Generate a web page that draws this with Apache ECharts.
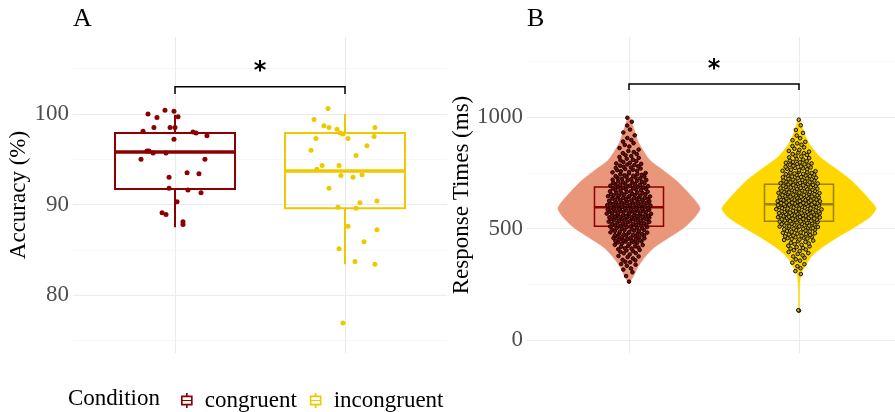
<!DOCTYPE html>
<html>
<head>
<meta charset="utf-8">
<script src="https://cdn.jsdelivr.net/npm/echarts@6/dist/echarts.min.js"></script>
<style>
html, body { margin: 0; padding: 0; background: #fff; }
#chart { width: 895px; height: 412px; }
</style>
</head>
<body>
<div id="chart"></div>
<script>
const conditions = ['congruent', 'incongruent']
const condColors = ['#8B0000', '#EEC900']
const violinColors = ['#E9967A', '#FFD700']
const rtBoxColors = ['#8B0000', '#9A8200']

// Panel A: accuracy per participant (%), with the horizontal jitter
const accCongruent = [100.0, 99.6, 100.4, 100.3, 99.7, 98.1, 98.5, 98.5, 98.5, 98.0, 97.9, 97.6, 97.2, 95.9, 95.9,
    95.7, 95.7, 95.0, 95.0, 93.0, 93.5, 93.4, 91.8, 91.6, 91.3, 90.3, 89.1, 88.9, 88.1, 87.8]
const accCongruentJitter = [-0.159, -0.106, -0.059, -0.006, 0.018, -0.188, -0.124, -0.029, 0.0, 0.106, 0.124, 0.188, -0.006, -0.165, -0.153,
    -0.129, -0.053, -0.2, 0.176, -0.035, 0.071, 0.141, -0.035, 0.076, 0.153, 0.012, -0.076, -0.053, 0.047, 0.047]
const accIncongruent = [100.6, 99.4, 98.7, 98.5, 98.3, 97.9, 97.8, 98.5, 97.5, 97.3, 97.3, 96.5, 96.0, 95.4, 94.3, 94.3,
    93.9, 93.2, 93.0, 93.3, 91.8, 89.7, 89.6, 90.2, 90.4, 87.6, 87.2, 85.9, 85.1, 83.7, 83.4, 76.9]
const accIncongruentJitter = [-0.1, -0.182, -0.124, -0.094, -0.047, -0.029, -0.012, 0.176, 0.171, -0.171, 0.018, 0.129, -0.2, 0.065, -0.135, -0.035,
    -0.165, -0.024, 0.047, 0.1, -0.094, -0.041, 0.065, 0.088, 0.188, 0.018, 0.188, 0.112, -0.035, 0.059, 0.176, -0.012]
// [lower whisker, q1, median, q3, upper whisker]
const accBoxCongruent = [87.5, 91.7, 95.8, 97.9, 99.9]
const accBoxIncongruent = [83.4, 89.6, 93.7, 97.9, 100.0]
const accTicks = [80, 90, 100]
const accMinorTicks = [75, 85, 95, 105]

// Panel B: response times (ms)
const rtCongruent = [262, 287,
    304, 316, 321, 333, 338, 341, 349,
    351, 358, 360, 366, 372, 375, 377, 384, 389, 390, 396, 399,
    402, 404, 407, 410, 412, 415, 419, 420, 422, 426, 427, 431, 433, 436, 438, 439, 441, 443, 445, 447, 448, 449,
    450, 453, 453, 456, 458, 459, 461, 461, 464, 466, 468, 469, 470, 472, 474, 475, 477, 478, 480, 482, 483, 485, 486, 488, 489, 491, 493, 494, 496, 499,
    500, 502, 502, 504, 506, 507, 509, 510, 511, 513, 514, 516, 517, 518, 520, 521, 523, 524, 526, 527, 528, 530, 531, 533, 534, 535, 537, 538, 539, 541, 542, 543, 544, 546, 547, 548, 549, 549,
    550, 551, 552, 553, 554, 555, 556, 557, 558, 559, 560, 562, 563, 564, 565, 566, 567, 568, 569, 570, 571, 573, 574, 575, 576, 577, 578, 579, 580, 581, 582, 584, 585, 586, 587, 588, 589, 590, 591, 592, 594, 595, 597, 599,
    600, 601, 602, 604, 605, 606, 607, 608, 610, 611, 612, 613, 614, 616, 617, 618, 619, 621, 622, 623, 624, 626, 627, 628, 629, 631, 632, 633, 635, 636, 637, 638, 640, 641, 642, 644, 645, 646, 647, 648, 649,
    650, 652, 653, 655, 656, 658, 659, 661, 662, 664, 665, 667, 668, 670, 672, 673, 675, 676, 678, 680, 681, 683, 684, 686, 687, 689, 690, 692, 693, 695, 696, 698, 699,
    701, 703, 705, 707, 708, 710, 712, 714, 716, 718, 719, 721, 723, 725, 727, 729, 731, 733, 735, 737, 739, 741, 743, 745, 747, 749,
    752, 754, 757, 759, 762, 764, 767, 769, 772, 774, 777, 779, 782, 785, 787, 790, 792, 795, 798,
    802, 806, 809, 813, 817, 821, 825, 829, 834, 838, 843, 848,
    854, 861, 868, 875, 883, 890, 897,
    906, 918, 931, 944,
    962, 979, 997]
const rtIncongruent = [132, 134, 296,
    309, 322, 331, 340, 347,
    356, 362, 369, 375, 380, 386, 390, 395, 399,
    403, 406, 410, 413, 417, 420, 423, 427, 430, 433, 436, 440, 443, 446, 449,
    451, 453, 455, 457, 459, 461, 463, 465, 467, 469, 471, 473, 475, 477, 479, 481, 483, 485, 487, 489, 491, 493, 495, 497, 499,
    500, 502, 503, 504, 506, 507, 509, 510, 511, 513, 514, 515, 517, 518, 520, 521, 522, 524, 525, 526, 528, 529, 531, 532, 533, 535, 536, 537, 539, 540, 541, 543, 544, 545, 547, 548, 549,
    550, 551, 552, 553, 555, 556, 557, 558, 559, 560, 561, 562, 564, 565, 566, 567, 568, 569, 570, 571, 573, 574, 575, 576, 577, 578, 579, 580, 582, 583, 584, 585, 586, 587, 589, 590, 591, 592, 594, 595, 596, 597, 598, 599,
    600, 601, 602, 603, 604, 605, 606, 607, 608, 609, 611, 612, 613, 614, 615, 616, 617, 618, 619, 620, 622, 623, 624, 625, 626, 627, 628, 629, 630, 631, 633, 634, 635, 636, 637, 638, 640, 641, 642, 643, 644, 645, 646, 648, 649,
    650, 651, 652, 654, 655, 656, 657, 659, 660, 661, 662, 664, 665, 666, 668, 669, 670, 671, 673, 674, 675, 677, 678, 679, 681, 682, 684, 685, 687, 688, 690, 691, 692, 694, 695, 696, 698, 699,
    700, 702, 703, 705, 707, 708, 710, 712, 713, 715, 716, 718, 720, 721, 723, 725, 726, 728, 730, 731, 733, 735, 737, 738, 740, 742, 744, 745, 747, 749,
    751, 753, 755, 757, 759, 762, 764, 766, 768, 770, 772, 774, 777, 779, 781, 783, 786, 788, 790, 792, 795, 797, 799,
    802, 805, 809, 812, 816, 819, 823, 826, 830, 834, 838, 841, 845, 848,
    853, 858, 864, 870, 876, 882, 889, 896,
    905, 917, 929, 942,
    963, 988]
// violin outline: response time level -> half width (in category units)
const violinCongruentLevels = [260, 283, 328, 373, 418, 462, 507, 552, 590, 627, 672, 717, 762, 807, 882, 942, 998]
const violinCongruentWidths = [0.003, 0.024, 0.053, 0.094, 0.153, 0.241, 0.329, 0.388, 0.418, 0.388, 0.335, 0.276, 0.2, 0.122, 0.059, 0.031, 0.006]
const violinIncongruentLevels = [133, 200, 254, 298, 328, 373, 418, 462, 507, 552, 590, 627, 672, 717, 762, 822, 882, 942, 990]
const violinIncongruentWidths = [0.002, 0.003, 0.005, 0.012, 0.035, 0.071, 0.141, 0.229, 0.329, 0.418, 0.453, 0.418, 0.365, 0.306, 0.229, 0.122, 0.059, 0.024, 0.005]
// [q1, median, q3]
const rtBoxCongruent = [510, 596, 686]
const rtBoxIncongruent = [533, 609, 699]
const rtTicks = [0, 500, 1000]
const rtMinorTicks = [250, 750, 1250]

const serif = 'Liberation Serif'

// quasirandom spread (van der Corput), like ggbeeswarm
const vdc = n => {
    let v = 0, d = 1
    while (n > 0) { d *= 2; v += (n % 2) / d; n = Math.floor(n / 2) }
    return v
}
const widthAt = (levels, widths, v) => {
    if (v <= levels[0]) return widths[0]
    for (let i = 1; i < levels.length; i++) {
        if (v <= levels[i]) {
            const t = (v - levels[i - 1]) / (levels[i] - levels[i - 1])
            return widths[i - 1] + t * (widths[i] - widths[i - 1])
        }
    }
    return widths[widths.length - 1]
}
const spreadPoints = (values, levels, widths, center) => {
    const maxW = Math.max(...widths)
    return values.slice().sort((a, b) => a - b).map((v, i) => {
        const r = Math.sqrt(widthAt(levels, widths, v) / maxW)
        return [center + (vdc(i + 1) * 2 - 1) * 0.135 * r, v]
    })
}

const gridLines = (major, minor) => ({
    type: 'scatter',
    data: [],
    silent: true,
    z: 0,
    markLine: {
        silent: true,
        z: 0,
        symbol: ['none', 'none'],
        label: { show: false },
        animation: false,
        data: [
            ...minor.map(v => ({ yAxis: v, lineStyle: { color: '#f3f3f3', width: 0.6, type: 'solid' } })),
            ...major.map(v => ({ yAxis: v, lineStyle: { color: '#ebebeb', width: 1, type: 'solid' } })),
            { xAxis: 1, lineStyle: { color: '#ebebeb', width: 1, type: 'solid' } },
            { xAxis: 2, lineStyle: { color: '#ebebeb', width: 1, type: 'solid' } }
        ]
    }
})

const boxSeries = (name, color, item, axisIndex, halfW, lw, medLw, whiskers, z) => ({
    type: 'custom',
    name: name,
    xAxisIndex: axisIndex,
    yAxisIndex: axisIndex,
    itemStyle: { color: color },
    z: z,
    data: [item],
    renderItem(params, api) {
        const x = api.value(0)
        const lo = api.value(1), q1 = api.value(2), med = api.value(3), q3 = api.value(4), hi = api.value(5)
        const tl = api.coord([x - halfW, q3])
        const br = api.coord([x + halfW, q1])
        const m1 = api.coord([x - halfW, med])
        const m2 = api.coord([x + halfW, med])
        const children = [
            {
                type: 'rect',
                shape: { x: tl[0], y: tl[1], width: br[0] - tl[0], height: br[1] - tl[1] },
                style: { fill: 'none', stroke: color, lineWidth: lw }
            },
            {
                type: 'line',
                shape: { x1: m1[0], y1: m1[1], x2: m2[0], y2: m2[1] },
                style: { stroke: color, lineWidth: medLw }
            }
        ]
        if (whiskers) {
            const a = api.coord([x, hi]), b = api.coord([x, q3])
            const c = api.coord([x, q1]), d = api.coord([x, lo])
            children.push(
                { type: 'line', shape: { x1: a[0], y1: a[1], x2: b[0], y2: b[1] }, style: { stroke: color, lineWidth: lw } },
                { type: 'line', shape: { x1: c[0], y1: c[1], x2: d[0], y2: d[1] }, style: { stroke: color, lineWidth: lw } }
            )
        }
        return { type: 'group', children: children }
    }
})

const violinSeries = (name, color, levels, widths, center, z) => ({
    type: 'custom',
    name: name + ' violin',
    xAxisIndex: 1,
    yAxisIndex: 1,
    silent: true,
    z: z,
    data: [[center, levels[0]]],
    renderItem(params, api) {
        const pts = []
        levels.forEach((v, i) => pts.push(api.coord([center - widths[i], v])))
        for (let i = levels.length - 1; i >= 0; i--) pts.push(api.coord([center + widths[i], levels[i]]))
        return {
            type: 'polygon',
            shape: { points: pts, smooth: 0.25 },
            style: { fill: color, stroke: color, lineWidth: 0.5 }
        }
    }
})

const bracketSeries = (axisIndex, item) => ({
    type: 'custom',
    xAxisIndex: axisIndex,
    yAxisIndex: axisIndex,
    silent: true,
    z: 5,
    data: [item],
    renderItem(params, api) {
        const x1 = api.value(0), x2 = api.value(1), top = api.value(2), tick = api.value(3), star = api.value(4)
        const p = [api.coord([x1, tick]), api.coord([x1, top]), api.coord([x2, top]), api.coord([x2, tick])]
        const s = api.coord([(x1 + x2) / 2, star])
        return {
            type: 'group',
            children: [
                { type: 'polyline', shape: { points: p }, style: { stroke: '#000', lineWidth: 1.5, fill: 'none' } },
                {
                    type: 'text',
                    x: s[0],
                    y: s[1],
                    style: { text: '*', fill: '#000', font: 'bold 24px "DejaVu Sans"', align: 'center', verticalAlign: 'middle' }
                }
            ]
        }
    }
})

const glyph = 'path://M6,0h2v3h-2z M0,3h14v12h-14z M2,5v3.3h10v-3.3z M2,9.7v3.3h10v-3.3z M6,15h2v3h-2z'

const hiddenX = idx => ({
    gridIndex: idx,
    type: 'value',
    min: 0.4,
    max: 2.6,
    axisLine: { show: false },
    axisTick: { show: false },
    axisLabel: { show: false },
    splitLine: { show: false }
})

const yAxisOf = (idx, min, max, ticks, name, gap) => ({
    gridIndex: idx,
    type: 'value',
    min: min,
    max: max,
    axisLine: { show: false },
    axisTick: { show: false },
    splitLine: { show: false },
    axisLabel: {
        customValues: ticks,
        formatter: v => String(v),
        color: '#4d4d4d',
        fontSize: 23,
        fontFamily: serif,
        margin: 4
    },
    name: name,
    nameLocation: 'middle',
    nameGap: gap,
    nameTextStyle: { color: '#000', fontSize: 23, fontFamily: serif }
})

const chart = echarts.init(document.getElementById('chart'))
chart.setOption({
    animation: false,
    textStyle: { fontFamily: serif },
    title: [
        { text: 'A', left: 73, top: 6, padding: 0, textStyle: { fontFamily: serif, fontSize: 26, fontWeight: 'normal', color: '#000' } },
        { text: 'B', left: 527, top: 6, padding: 0, textStyle: { fontFamily: serif, fontSize: 26, fontWeight: 'normal', color: '#000' } }
    ],
    grid: [
        { left: 73, width: 374, top: 37, bottom: 59, outerBoundsMode: 'none' },
        { left: 527, width: 374, top: 37, bottom: 59, outerBoundsMode: 'none' }
    ],
    xAxis: [hiddenX(0), hiddenX(1)],
    yAxis: [
        yAxisOf(0, 73.6, 108.5, accTicks, 'Accuracy (%)', 37),
        yAxisOf(1, -58, 1359, rtTicks, 'Response Times (ms)', 47)
    ],
    legend: {
        left: 176,
        top: 384,
        itemWidth: 12,
        itemHeight: 15,
        itemGap: 13,
        selectedMode: false,
        data: conditions.map(c => ({ name: c, icon: glyph })),
        textStyle: { fontFamily: serif, fontSize: 23, color: '#000', padding: [0, 0, 0, 7] }
    },
    graphic: [
        { type: 'text', left: 68, top: 387, style: { text: 'Condition', font: '23px "Liberation Serif"', fill: '#000' } }
    ],
    series: [
        { ...gridLines(accTicks, accMinorTicks), xAxisIndex: 0, yAxisIndex: 0 },
        { ...gridLines(rtTicks, rtMinorTicks), xAxisIndex: 1, yAxisIndex: 1 },
        boxSeries(conditions[0], condColors[0], [1, ...accBoxCongruent], 0, 0.353, 2, 3.5, true, 2),
        boxSeries(conditions[1], condColors[1], [2, ...accBoxIncongruent], 0, 0.353, 2, 3.5, true, 2),
        {
            type: 'scatter', xAxisIndex: 0, yAxisIndex: 0, z: 3, silent: true, symbolSize: 5,
            itemStyle: { color: condColors[0], opacity: 1 },
            data: accCongruent.map((v, i) => [1 + accCongruentJitter[i], v])
        },
        {
            type: 'scatter', xAxisIndex: 0, yAxisIndex: 0, z: 3, silent: true, symbolSize: 5,
            itemStyle: { color: condColors[1], opacity: 1 },
            data: accIncongruent.map((v, i) => [2 + accIncongruentJitter[i], v])
        },
        bracketSeries(0, [1, 2, 103.0, 102.2, 104.7]),
        violinSeries(conditions[0], violinColors[0], violinCongruentLevels, violinCongruentWidths, 1, 1),
        violinSeries(conditions[1], violinColors[1], violinIncongruentLevels, violinIncongruentWidths, 2, 1),
        boxSeries('rtbox0', rtBoxColors[0], [1, rtBoxCongruent[0], ...rtBoxCongruent, rtBoxCongruent[2]], 1, 0.203, 1.5, 2.5, false, 2),
        boxSeries('rtbox1', rtBoxColors[1], [2, rtBoxIncongruent[0], ...rtBoxIncongruent, rtBoxIncongruent[2]], 1, 0.203, 1.5, 2.5, false, 2),
        {
            type: 'scatter', xAxisIndex: 1, yAxisIndex: 1, z: 3, silent: true, symbolSize: 3.6, large: false,
            itemStyle: { color: condColors[0], borderColor: '#000', borderWidth: 0.9, opacity: 1 },
            data: spreadPoints(rtCongruent, violinCongruentLevels, violinCongruentWidths, 1)
        },
        {
            type: 'scatter', xAxisIndex: 1, yAxisIndex: 1, z: 3, silent: true, symbolSize: 3.6, large: false,
            itemStyle: { color: '#C9A800', borderColor: '#000', borderWidth: 0.9, opacity: 1 },
            data: spreadPoints(rtIncongruent, violinIncongruentLevels, violinIncongruentWidths, 2)
        },
        bracketSeries(1, [1, 2, 1148, 1121, 1212])
    ]
})
</script>
</body>
</html>
